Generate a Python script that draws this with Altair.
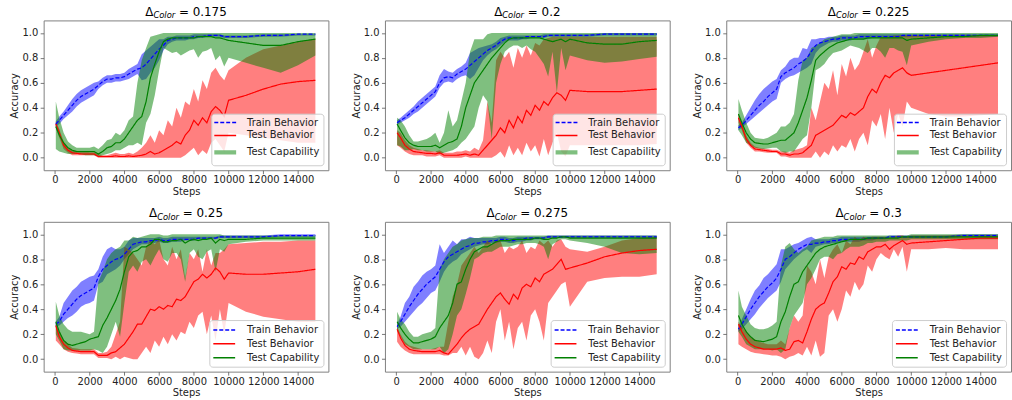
import altair as alt
import pandas as pd

# ---------------- data ----------------
STEPS = [50, 250, 500, 750, 1000, 1250, 1500, 1750, 2000, 2250,
         2500, 2750, 3000, 3250, 3500, 3750, 4000, 4250, 4500, 4750,
         5000, 5250, 5500, 5750, 6000, 6250, 6500, 6750, 7000, 7250,
         7500, 7750, 8000, 8250, 8500, 8750, 9000, 9250, 9500, 9750,
         10000, 11000, 12000, 13000, 14000, 15000]
SERIES = ["Train Behavior", "Test Behavior", "Test Capability"]
COLORS = ["blue", "red", "green"]
DELTAS = ["0.175", "0.2", "0.225", "0.25", "0.275", "0.3"]
X_TICKS = [0, 2000, 4000, 6000, 8000, 10000, 12000, 14000]
Y_TICKS = [0.0, 0.2, 0.4, 0.6, 0.8, 1.0]

# ---- Delta = 0.175
a_train = [0.27,0.30,0.34,0.38,0.42,0.46,0.49,0.51,0.53,0.55,
           0.58,0.61,0.63,0.63,0.64,0.64,0.65,0.67,0.69,0.71,
           0.72,0.75,0.79,0.83,0.87,0.90,0.94,0.95,0.96,0.96,
           0.96,0.96,0.97,0.97,0.97,0.98,0.98,0.98,0.98,0.97,
           0.97,0.97,0.98,0.98,0.99,0.99]
a_train_lo = [0.25,0.27,0.31,0.34,0.37,0.41,0.44,0.46,0.48,0.50,
              0.55,0.58,0.60,0.60,0.61,0.61,0.62,0.63,0.65,0.67,
              0.62,0.63,0.68,0.72,0.78,0.86,0.91,0.93,0.94,0.94,
              0.94,0.95,0.95,0.96,0.96,0.97,0.97,0.97,0.97,0.96,
              0.96,0.96,0.97,0.97,0.98,0.98]
a_train_hi = [0.29,0.33,0.37,0.42,0.47,0.51,0.54,0.56,0.58,0.60,
              0.61,0.64,0.66,0.66,0.67,0.67,0.68,0.71,0.73,0.75,
              0.83,0.86,0.89,0.92,0.95,0.95,0.97,0.97,0.98,0.98,
              0.98,0.98,0.99,0.99,0.99,0.99,0.99,0.99,0.99,0.98,
              0.98,0.98,0.99,0.99,0.99,0.99]
a_beh = [0.27,0.20,0.10,0.06,0.04,0.035,0.03,0.03,0.03,0.03,
         0.01,0.01,0.01,0.01,0.015,0.01,0.01,0.015,0.01,0.015,
         0.02,0.03,0.05,0.03,0.04,0.06,0.08,0.10,0.13,0.11,
         0.18,0.22,0.30,0.26,0.32,0.28,0.37,0.41,0.38,0.33,
         0.46,0.50,0.55,0.59,0.61,0.62]
a_beh_lo = [0.24,0.16,0.07,0.04,0.02,0.02,0.02,0.02,0.02,0.02,
            0.0,0.0,0.0,0.0,0.0,0.0,0.0,0.0,0.0,0.0,
            0.0,0.0,0.0,0.0,0.0,0.0,0.0,0.0,0.0,0.0,
            0.02,0.05,0.08,0.02,0.06,0.03,0.12,0.15,0.10,0.05,
            0.20,0.18,0.16,0.14,0.12,0.12]
a_beh_hi = [0.29,0.23,0.13,0.08,0.06,0.05,0.05,0.05,0.045,0.045,
            0.03,0.02,0.02,0.03,0.04,0.03,0.03,0.04,0.03,0.05,
            0.08,0.12,0.18,0.12,0.22,0.18,0.30,0.25,0.40,0.32,
            0.45,0.42,0.55,0.45,0.62,0.55,0.68,0.72,0.66,0.62,
            0.70,0.80,0.87,0.90,0.93,0.955]
a_cap = [0.25,0.18,0.12,0.08,0.06,0.05,0.05,0.05,0.05,0.05,
         0.03,0.05,0.08,0.09,0.12,0.12,0.15,0.20,0.25,0.30,
         0.33,0.45,0.64,0.75,0.85,0.93,0.95,0.96,0.96,0.96,
         0.96,0.96,0.96,0.97,0.97,0.97,0.97,0.96,0.96,0.95,
         0.94,0.92,0.90,0.90,0.93,0.95]
a_cap_lo = [0.07,0.05,0.04,0.03,0.03,0.03,0.03,0.02,0.02,0.02,
            0.01,0.02,0.03,0.04,0.06,0.06,0.08,0.10,0.10,0.12,
            0.10,0.28,0.35,0.50,0.70,0.88,0.86,0.84,0.85,0.82,
            0.84,0.86,0.87,0.80,0.85,0.86,0.88,0.78,0.82,0.73,
            0.80,0.76,0.72,0.68,0.74,0.82]
a_cap_hi = [0.45,0.32,0.20,0.13,0.10,0.08,0.08,0.08,0.08,0.09,
            0.07,0.10,0.14,0.15,0.20,0.18,0.22,0.30,0.33,0.60,
            0.78,0.88,0.97,0.98,0.99,1.0,1.0,1.0,1.0,1.0,
            1.0,1.0,1.0,1.0,1.0,1.0,1.0,1.0,1.0,1.0,
            1.0,1.0,1.0,1.0,1.0,1.0]

# ---- Delta = 0.2
b_train = [0.28,0.30,0.32,0.35,0.38,0.41,0.44,0.47,0.50,0.53,
           0.60,0.64,0.65,0.64,0.67,0.69,0.71,0.74,0.77,0.80,
           0.83,0.86,0.88,0.90,0.93,0.95,0.96,0.96,0.96,0.96,
           0.97,0.97,0.97,0.97,0.97,0.98,0.98,0.98,0.98,0.98,
           0.98,0.98,0.99,0.99,0.99,0.99]
b_train_lo = [0.26,0.28,0.30,0.32,0.35,0.37,0.40,0.43,0.46,0.49,
              0.56,0.60,0.61,0.60,0.63,0.65,0.66,0.63,0.66,0.72,
              0.78,0.82,0.85,0.87,0.90,0.93,0.94,0.94,0.94,0.95,
              0.95,0.96,0.96,0.96,0.96,0.97,0.97,0.97,0.97,0.97,
              0.97,0.97,0.98,0.98,0.98,0.98]
b_train_hi = [0.30,0.32,0.35,0.38,0.41,0.45,0.48,0.51,0.54,0.57,
              0.66,0.71,0.69,0.68,0.71,0.73,0.76,0.84,0.86,0.88,
              0.89,0.90,0.91,0.93,0.96,0.97,0.98,0.98,0.98,0.98,
              0.98,0.98,0.98,0.98,0.99,0.99,0.99,0.99,0.99,0.99,
              0.99,0.99,1.0,1.0,1.0,1.0]
b_beh = [0.20,0.16,0.10,0.07,0.05,0.045,0.04,0.035,0.035,0.03,
         0.04,0.02,0.02,0.02,0.02,0.025,0.03,0.02,0.03,0.02,
         0.06,0.10,0.14,0.18,0.24,0.20,0.30,0.24,0.33,0.28,
         0.38,0.34,0.42,0.38,0.45,0.42,0.48,0.52,0.50,0.46,
         0.54,0.53,0.53,0.53,0.54,0.55]
b_beh_lo = [0.10,0.08,0.05,0.03,0.02,0.02,0.02,0.01,0.01,0.01,
            0.02,0.0,0.0,0.0,0.0,0.0,0.01,0.0,0.0,0.0,
            0.0,0.0,0.0,0.02,0.05,0.0,0.10,0.02,0.08,0.02,
            0.12,0.05,0.10,0.01,0.15,0.02,0.12,0.20,0.05,0.01,
            0.10,0.10,0.10,0.10,0.10,0.11]
b_beh_hi = [0.22,0.20,0.14,0.10,0.08,0.07,0.06,0.06,0.055,0.05,
            0.06,0.04,0.04,0.04,0.05,0.05,0.06,0.05,0.08,0.06,
            0.14,0.45,0.28,0.78,0.85,0.80,0.85,0.72,0.88,0.80,
            0.90,0.82,0.92,0.90,0.95,0.96,0.97,0.97,0.97,0.97,
            0.97,0.97,0.97,0.97,0.97,0.97]
b_cap = [0.27,0.22,0.16,0.12,0.10,0.09,0.09,0.09,0.09,0.10,
         0.08,0.10,0.12,0.13,0.15,0.25,0.40,0.50,0.60,0.65,
         0.70,0.75,0.80,0.84,0.88,0.92,0.95,0.96,0.96,0.96,
         0.96,0.96,0.96,0.96,0.95,0.94,0.93,0.94,0.95,0.93,
         0.95,0.92,0.91,0.91,0.93,0.94]
b_cap_lo = [0.10,0.09,0.06,0.06,0.07,0.06,0.06,0.05,0.05,0.05,
            0.03,0.04,0.05,0.06,0.08,0.12,0.15,0.20,0.25,0.40,
            0.50,0.45,0.15,0.60,0.75,0.85,0.88,0.90,0.90,0.88,
            0.90,0.87,0.85,0.80,0.75,0.65,0.85,0.52,0.88,0.70,
            0.82,0.78,0.76,0.77,0.79,0.81]
b_cap_hi = [0.32,0.30,0.25,0.18,0.13,0.13,0.14,0.15,0.17,0.20,
            0.12,0.20,0.38,0.25,0.30,0.45,0.60,0.85,0.95,0.95,
            0.95,0.99,1.0,1.0,1.0,1.0,1.0,1.0,1.0,1.0,
            1.0,1.0,1.0,1.0,1.0,1.0,1.0,1.0,1.0,1.0,
            1.0,1.0,1.0,1.0,1.0,1.0]

# ---- Delta = 0.225
c_train = [0.24,0.26,0.30,0.34,0.38,0.42,0.45,0.49,0.52,0.55,
           0.65,0.68,0.70,0.72,0.75,0.77,0.80,0.85,0.90,0.92,
           0.93,0.94,0.95,0.95,0.96,0.96,0.96,0.96,0.97,0.97,
           0.97,0.97,0.97,0.97,0.97,0.97,0.97,0.97,0.98,0.98,
           0.98,0.98,0.98,0.98,0.98,0.98]
c_train_lo = [0.22,0.24,0.27,0.30,0.33,0.36,0.39,0.42,0.45,0.47,
              0.60,0.63,0.65,0.66,0.68,0.70,0.72,0.75,0.84,0.88,
              0.90,0.92,0.93,0.93,0.94,0.94,0.94,0.95,0.95,0.95,
              0.95,0.96,0.96,0.96,0.96,0.96,0.96,0.96,0.97,0.97,
              0.97,0.97,0.97,0.97,0.97,0.97]
c_train_hi = [0.26,0.28,0.34,0.40,0.46,0.51,0.55,0.58,0.61,0.63,
              0.70,0.73,0.78,0.80,0.80,0.88,0.87,0.95,0.95,0.96,
              0.96,0.97,0.97,0.97,0.98,0.98,0.98,0.98,0.99,0.99,
              0.99,0.99,0.99,0.99,0.99,0.99,0.99,0.99,0.99,0.99,
              0.99,0.99,0.99,0.99,0.99,0.99]
c_beh = [0.32,0.25,0.15,0.10,0.07,0.065,0.06,0.055,0.05,0.05,
         0.03,0.03,0.02,0.03,0.03,0.04,0.07,0.10,0.18,0.20,
         0.22,0.24,0.26,0.30,0.34,0.32,0.36,0.34,0.37,0.40,
         0.49,0.55,0.52,0.60,0.66,0.64,0.68,0.70,0.72,0.68,
         0.66,0.68,0.70,0.72,0.74,0.76]
c_beh_lo = [0.28,0.22,0.12,0.08,0.05,0.05,0.045,0.04,0.04,0.04,
            0.01,0.01,0.0,0.0,0.0,0.0,0.0,0.0,0.05,0.0,
            0.05,0.02,0.10,0.05,0.10,0.08,0.15,0.05,0.15,0.20,
            0.10,0.30,0.25,0.35,0.15,0.40,0.20,0.35,0.25,0.45,
            0.40,0.35,0.33,0.33,0.34,0.35]
c_beh_hi = [0.35,0.28,0.18,0.12,0.09,0.08,0.075,0.07,0.065,0.065,
            0.05,0.05,0.04,0.06,0.07,0.08,0.10,0.40,0.30,0.45,
            0.60,0.55,0.70,0.50,0.75,0.65,0.80,0.70,0.75,0.85,
            0.95,0.80,0.90,0.97,0.97,0.97,0.98,0.98,0.98,0.98,
            0.98,0.98,0.98,0.98,0.98,0.98]
c_cap = [0.35,0.28,0.20,0.15,0.12,0.115,0.11,0.11,0.12,0.13,
         0.14,0.14,0.17,0.20,0.28,0.38,0.48,0.62,0.78,0.82,
         0.85,0.88,0.90,0.92,0.93,0.94,0.95,0.95,0.95,0.95,
         0.96,0.96,0.96,0.96,0.96,0.96,0.96,0.96,0.96,0.94,
         0.95,0.96,0.97,0.97,0.98,0.98]
c_cap_lo = [0.22,0.18,0.12,0.10,0.08,0.075,0.07,0.075,0.08,0.08,
            0.05,0.04,0.05,0.05,0.10,0.15,0.18,0.40,0.70,0.72,
            0.75,0.80,0.84,0.85,0.86,0.88,0.90,0.89,0.88,0.86,
            0.84,0.88,0.88,0.85,0.80,0.88,0.88,0.86,0.85,0.74,
            0.90,0.93,0.95,0.96,0.96,0.97]
c_cap_hi = [0.47,0.38,0.28,0.20,0.16,0.155,0.15,0.16,0.18,0.20,
            0.25,0.25,0.28,0.35,0.62,0.78,0.80,0.88,0.90,0.92,
            0.95,0.96,0.97,0.98,0.99,0.99,0.99,1.0,1.0,1.0,
            1.0,1.0,1.0,1.0,1.0,1.0,1.0,1.0,1.0,1.0,
            1.0,1.0,1.0,1.0,1.0,1.0]

# ---- Delta = 0.25
d_train = [0.28,0.30,0.36,0.40,0.44,0.48,0.51,0.53,0.55,0.57,
           0.66,0.72,0.75,0.78,0.80,0.81,0.84,0.88,0.92,0.93,
           0.94,0.94,0.95,0.95,0.96,0.95,0.95,0.96,0.96,0.96,
           0.96,0.96,0.96,0.97,0.97,0.97,0.97,0.97,0.98,0.98,
           0.98,0.98,0.98,0.99,0.99,0.99]
d_train_lo = [0.26,0.27,0.30,0.33,0.35,0.38,0.42,0.44,0.45,0.47,
              0.60,0.62,0.68,0.70,0.72,0.75,0.80,0.84,0.88,0.90,
              0.92,0.92,0.93,0.93,0.94,0.93,0.93,0.94,0.94,0.94,
              0.95,0.95,0.95,0.96,0.96,0.96,0.96,0.96,0.97,0.97,
              0.97,0.97,0.97,0.98,0.98,0.98]
d_train_hi = [0.30,0.34,0.45,0.50,0.55,0.58,0.62,0.64,0.66,0.67,
              0.72,0.82,0.88,0.90,0.88,0.88,0.90,0.95,0.97,0.97,
              0.97,0.97,0.97,0.97,0.98,0.97,0.97,0.98,0.98,0.98,
              0.98,0.98,0.98,0.98,0.98,0.98,0.98,0.98,0.99,0.99,
              0.99,0.99,0.99,1.0,1.0,1.0]
d_beh = [0.27,0.18,0.12,0.09,0.07,0.065,0.06,0.06,0.06,0.06,
         0.03,0.03,0.03,0.05,0.06,0.09,0.12,0.17,0.22,0.28,
         0.28,0.34,0.40,0.39,0.42,0.40,0.43,0.42,0.48,0.47,
         0.50,0.56,0.62,0.64,0.68,0.65,0.68,0.73,0.70,0.64,
         0.69,0.68,0.68,0.69,0.70,0.72]
d_beh_lo = [0.15,0.12,0.08,0.06,0.05,0.045,0.04,0.04,0.04,0.04,
            0.01,0.01,0.01,0.0,0.02,0.0,0.02,0.01,0.0,0.0,
            0.05,0.10,0.05,0.15,0.10,0.18,0.12,0.20,0.15,0.22,
            0.20,0.30,0.25,0.35,0.38,0.20,0.35,0.15,0.40,0.20,
            0.45,0.38,0.34,0.32,0.30,0.30]
d_beh_hi = [0.28,0.22,0.15,0.12,0.09,0.085,0.08,0.08,0.08,0.08,
            0.05,0.05,0.06,0.10,0.20,0.30,0.90,0.88,0.85,0.80,
            0.75,0.90,0.95,0.92,0.96,0.80,0.75,0.90,0.80,0.88,
            0.65,0.85,0.80,0.88,0.70,0.88,0.75,0.85,0.85,0.88,
            0.92,0.93,0.94,0.94,0.95,0.95]
d_cap = [0.30,0.22,0.15,0.12,0.11,0.12,0.13,0.14,0.16,0.17,
         0.18,0.27,0.33,0.40,0.47,0.56,0.70,0.82,0.86,0.87,
         0.90,0.90,0.92,0.96,0.96,0.94,0.94,0.95,0.95,0.96,
         0.93,0.95,0.96,0.95,0.96,0.96,0.97,0.93,0.96,0.95,
         0.96,0.96,0.97,0.97,0.97,0.97]
d_cap_lo = [0.20,0.15,0.08,0.07,0.07,0.07,0.07,0.07,0.07,0.08,
            0.07,0.05,0.10,0.20,0.30,0.18,0.45,0.70,0.75,0.70,
            0.78,0.80,0.75,0.82,0.88,0.80,0.78,0.85,0.85,0.80,
            0.62,0.85,0.88,0.82,0.80,0.86,0.88,0.70,0.88,0.86,
            0.92,0.94,0.95,0.95,0.95,0.95]
d_cap_hi = [0.46,0.35,0.28,0.24,0.22,0.22,0.22,0.21,0.20,0.22,
            0.62,0.70,0.80,0.85,0.88,0.90,0.95,0.95,0.98,0.97,
            0.98,0.99,1.0,1.0,1.0,0.99,0.99,1.0,1.0,1.0,
            1.0,1.0,1.0,1.0,1.0,1.0,1.0,1.0,1.0,0.99,
            0.99,0.99,0.99,0.99,0.99,0.99]

# ---- Delta = 0.275
e_train = [0.26,0.30,0.36,0.42,0.47,0.52,0.56,0.60,0.63,0.66,
           0.72,0.78,0.82,0.84,0.86,0.88,0.90,0.91,0.93,0.93,
           0.94,0.94,0.95,0.95,0.96,0.96,0.95,0.95,0.96,0.96,
           0.97,0.97,0.97,0.97,0.97,0.98,0.98,0.98,0.98,0.98,
           0.98,0.98,0.98,0.98,0.98,0.98]
e_train_lo = [0.24,0.26,0.30,0.34,0.38,0.42,0.45,0.49,0.53,0.55,
              0.62,0.70,0.75,0.78,0.80,0.84,0.86,0.88,0.90,0.91,
              0.92,0.92,0.93,0.93,0.94,0.94,0.93,0.93,0.94,0.94,
              0.95,0.95,0.96,0.96,0.96,0.97,0.97,0.97,0.97,0.97,
              0.97,0.97,0.97,0.97,0.97,0.97]
e_train_hi = [0.28,0.34,0.45,0.50,0.58,0.62,0.67,0.70,0.72,0.75,
              0.92,0.85,0.90,0.95,0.92,0.96,0.96,0.98,0.97,0.97,
              0.97,0.97,0.97,0.97,0.98,0.98,0.97,0.97,0.98,0.98,
              0.98,0.98,0.98,0.98,0.98,0.99,0.99,0.99,0.99,0.99,
              0.99,0.99,0.99,0.99,0.99,0.99]
e_beh = [0.24,0.17,0.11,0.08,0.07,0.065,0.06,0.06,0.06,0.06,
         0.07,0.05,0.04,0.08,0.12,0.17,0.21,0.24,0.26,0.28,
         0.34,0.40,0.45,0.50,0.53,0.48,0.44,0.52,0.48,0.57,
         0.60,0.58,0.65,0.62,0.68,0.70,0.72,0.76,0.80,0.72,
         0.73,0.77,0.82,0.85,0.87,0.88]
e_beh_lo = [0.14,0.10,0.07,0.05,0.04,0.04,0.04,0.04,0.04,0.04,
            0.04,0.03,0.03,0.05,0.05,0.10,0.03,0.10,0.02,0.0,
            0.05,0.15,0.05,0.30,0.40,0.15,0.30,0.08,0.25,0.30,
            0.15,0.35,0.40,0.30,0.15,0.45,0.50,0.55,0.60,0.62,
            0.42,0.62,0.65,0.66,0.66,0.68]
e_beh_hi = [0.26,0.20,0.14,0.11,0.10,0.09,0.08,0.08,0.08,0.09,
            0.10,0.10,0.30,0.50,0.60,0.75,0.80,0.85,0.90,0.85,
            0.90,0.95,0.92,0.95,0.95,0.85,0.90,0.88,0.90,0.95,
            0.85,0.90,0.88,0.95,0.92,0.95,0.90,0.95,0.96,0.90,
            0.88,0.86,0.90,0.95,0.97,0.98]
e_cap = [0.30,0.25,0.20,0.16,0.13,0.13,0.14,0.15,0.16,0.18,
         0.25,0.30,0.35,0.45,0.60,0.62,0.72,0.80,0.86,0.88,
         0.90,0.90,0.92,0.94,0.95,0.95,0.95,0.96,0.96,0.96,
         0.96,0.96,0.97,0.97,0.96,0.96,0.97,0.97,0.98,0.98,
         0.97,0.97,0.97,0.97,0.97,0.97]
e_cap_lo = [0.23,0.18,0.12,0.10,0.08,0.08,0.08,0.08,0.08,0.08,
            0.10,0.05,0.08,0.20,0.35,0.40,0.52,0.65,0.80,0.82,
            0.85,0.86,0.86,0.88,0.90,0.90,0.90,0.91,0.92,0.92,
            0.93,0.93,0.93,0.92,0.90,0.80,0.92,0.94,0.96,0.96,
            0.95,0.93,0.90,0.85,0.84,0.85]
e_cap_hi = [0.38,0.32,0.28,0.22,0.18,0.18,0.20,0.21,0.22,0.25,
            0.72,0.80,0.85,0.90,0.92,0.95,0.96,0.97,0.97,0.97,
            0.98,0.98,0.98,0.99,0.99,0.99,0.99,0.99,0.99,0.99,
            0.99,0.99,0.99,0.99,0.99,0.99,0.99,0.99,0.99,0.99,
            0.99,0.99,0.99,0.99,0.99,0.99]

# ---- Delta = 0.3
f_train = [0.24,0.28,0.34,0.40,0.45,0.50,0.54,0.58,0.61,0.65,
           0.72,0.80,0.82,0.85,0.88,0.90,0.92,0.92,0.93,0.93,
           0.94,0.94,0.95,0.95,0.96,0.96,0.96,0.96,0.96,0.96,
           0.97,0.97,0.97,0.97,0.97,0.98,0.98,0.98,0.98,0.98,
           0.98,0.98,0.98,0.99,0.99,0.99]
f_train_lo = [0.22,0.24,0.28,0.32,0.36,0.41,0.45,0.49,0.52,0.55,
              0.62,0.72,0.76,0.80,0.83,0.86,0.88,0.85,0.90,0.91,
              0.92,0.92,0.93,0.93,0.94,0.94,0.94,0.94,0.94,0.95,
              0.95,0.95,0.96,0.96,0.96,0.97,0.97,0.97,0.97,0.97,
              0.97,0.97,0.97,0.98,0.98,0.98]
f_train_hi = [0.26,0.32,0.40,0.48,0.55,0.59,0.65,0.68,0.72,0.76,
              0.88,0.88,0.90,0.92,0.93,0.95,0.97,0.98,0.96,0.96,
              0.96,0.96,0.97,0.97,0.98,0.98,0.98,0.98,0.98,0.98,
              0.98,0.98,0.98,0.98,0.98,0.99,0.99,0.99,0.99,0.99,
              0.99,0.99,0.99,1.0,1.0,1.0]
f_beh = [0.28,0.22,0.16,0.12,0.10,0.09,0.08,0.08,0.08,0.08,
         0.09,0.07,0.08,0.14,0.15,0.13,0.22,0.32,0.40,0.43,
         0.45,0.53,0.62,0.66,0.74,0.72,0.77,0.76,0.82,0.80,
         0.86,0.88,0.90,0.90,0.92,0.88,0.91,0.93,0.95,0.92,
         0.93,0.94,0.95,0.96,0.97,0.97]
f_beh_lo = [0.12,0.10,0.08,0.06,0.05,0.045,0.04,0.035,0.03,0.03,
            0.02,0.0,0.02,0.03,0.05,0.03,0.10,0.03,0.15,0.02,
            0.05,0.35,0.40,0.30,0.40,0.55,0.50,0.62,0.55,0.60,
            0.75,0.70,0.80,0.85,0.82,0.80,0.88,0.82,0.90,0.70,
            0.88,0.88,0.89,0.88,0.88,0.88]
f_beh_hi = [0.30,0.26,0.22,0.18,0.16,0.14,0.13,0.12,0.12,0.12,
            0.15,0.12,0.25,0.35,0.30,0.35,0.75,0.70,0.60,0.80,
            0.65,0.82,0.88,0.92,0.85,0.95,0.92,0.98,0.95,0.98,
            0.97,0.98,0.98,0.98,0.98,0.97,0.98,0.99,0.99,0.98,
            0.99,0.99,0.99,0.99,0.99,0.99]
f_cap = [0.35,0.28,0.22,0.18,0.15,0.145,0.14,0.15,0.16,0.18,
         0.30,0.38,0.50,0.60,0.62,0.70,0.75,0.80,0.85,0.88,
         0.90,0.91,0.92,0.93,0.94,0.95,0.96,0.96,0.96,0.96,
         0.97,0.97,0.97,0.97,0.97,0.97,0.97,0.97,0.98,0.98,
         0.98,0.98,0.98,0.98,0.98,0.98]
f_cap_lo = [0.22,0.18,0.12,0.10,0.08,0.08,0.08,0.08,0.07,0.08,
            0.05,0.08,0.25,0.35,0.40,0.45,0.60,0.65,0.72,0.80,
            0.82,0.82,0.80,0.84,0.85,0.88,0.90,0.90,0.90,0.91,
            0.93,0.93,0.94,0.94,0.94,0.95,0.95,0.95,0.95,0.95,
            0.96,0.96,0.96,0.96,0.96,0.96]
f_cap_hi = [0.55,0.42,0.35,0.28,0.25,0.24,0.24,0.25,0.27,0.30,
            0.75,0.90,0.93,0.88,0.85,0.88,0.90,0.95,0.96,0.97,
            0.98,0.98,0.98,0.99,0.99,0.99,0.99,0.99,0.99,0.99,
            0.99,0.99,0.99,0.99,0.99,0.99,0.99,0.99,0.99,0.99,
            1.0,1.0,1.0,1.0,1.0,1.0]

PANELS = [
    (DELTAS[0], [(a_train, a_train_lo, a_train_hi), (a_beh, a_beh_lo, a_beh_hi), (a_cap, a_cap_lo, a_cap_hi)]),
    (DELTAS[1], [(b_train, b_train_lo, b_train_hi), (b_beh, b_beh_lo, b_beh_hi), (b_cap, b_cap_lo, b_cap_hi)]),
    (DELTAS[2], [(c_train, c_train_lo, c_train_hi), (c_beh, c_beh_lo, c_beh_hi), (c_cap, c_cap_lo, c_cap_hi)]),
    (DELTAS[3], [(d_train, d_train_lo, d_train_hi), (d_beh, d_beh_lo, d_beh_hi), (d_cap, d_cap_lo, d_cap_hi)]),
    (DELTAS[4], [(e_train, e_train_lo, e_train_hi), (e_beh, e_beh_lo, e_beh_hi), (e_cap, e_cap_lo, e_cap_hi)]),
    (DELTAS[5], [(f_train, f_train_lo, f_train_hi), (f_beh, f_beh_lo, f_beh_hi), (f_cap, f_cap_lo, f_cap_hi)]),
]

# ---------------- layout ----------------
W, H = 287, 151
FONT = "DejaVu Sans"
TITLE_FS = 12
SUB_FS = 8.4
# DejaVu Sans advance widths (em) used to centre the composite title
ADV = {".": 0.318, " ": 0.318, "=": 0.838}
W_DELTA = 0.684 * TITLE_FS
W_SUB = (0.698 + 0.612 + 0.278 + 0.612 + 0.411) * SUB_FS
W_SPACE = 0.318 * TITLE_FS


def title_layers(value):
    rest = "= " + value
    w_rest = W_SPACE + sum(ADV.get(ch, 0.636) for ch in rest) * TITLE_FS
    start = -(W_DELTA + W_SUB + w_rest) / 2
    base_y = -4.5
    parts = [
        ("\u0394", TITLE_FS, "normal", start, base_y),
        ("Color", SUB_FS, "italic", start + W_DELTA, base_y + 2.5),
        (rest, TITLE_FS, "normal", start + W_DELTA + W_SUB + W_SPACE, base_y),
    ]
    layers = []
    for txt, fs, style, dx, yy in parts:
        layers.append(
            alt.Chart(pd.DataFrame({"t": [txt]}))
            .mark_text(align="left", baseline="alphabetic", font=FONT, fontSize=fs,
                       fontStyle=style, color="black", dx=dx)
            .encode(text="t:N", x=alt.value(W / 2), y=alt.value(yy))
        )
    return layers


x_enc = alt.X("step:Q",
              scale=alt.Scale(domain=[-650, 15750], nice=False, zero=False),
              axis=alt.Axis(values=X_TICKS, format="d", title="Steps",
                            labelPadding=1, titlePadding=2, labelFlush=False))
y_scale = alt.Scale(domain=[-0.1, 1.1], nice=False, zero=False)
y_axis = alt.Axis(values=Y_TICKS, format=".1f", title="Accuracy",
                  labelPadding=2.5, titlePadding=2, labelFlush=False)


def make_legend(thick_capability):
    kw = dict(title=None, orient="bottom-right", offset=5, padding=4,
              fillColor="rgba(255,255,255,0.8)", strokeColor="#cccccc",
              cornerRadius=3, labelFont=FONT, labelFontSize=10,
              labelColor="#222222", symbolType="M-2.2,0H2.2", symbolSize=100,
              symbolOffset=5, labelOffset=17, rowPadding=3)
    if thick_capability:
        kw["symbolStrokeWidth"] = alt.ExprRef("datum.label === 'Test Capability' ? 4.5 : 1.5")
        kw["symbolOpacity"] = alt.ExprRef("datum.label === 'Test Capability' ? 0.5 : 1")
    else:
        kw["symbolStrokeWidth"] = 1.5
    return alt.Legend(**kw)


def panel(value, series_data, thick):
    rows = []
    for name, (m, lo, hi) in zip(SERIES, series_data):
        for s, a, b, c in zip(STEPS, m, lo, hi):
            rows.append({"step": s, "series": name, "mean": a, "lo": b, "hi": c})
    df = pd.DataFrame(rows)
    legend = make_legend(thick)
    areas = [
        alt.Chart(df).transform_filter(alt.datum.series == name)
        .mark_area(color=col, opacity=0.5)
        .encode(x=x_enc, y=alt.Y("lo:Q", scale=y_scale, axis=y_axis), y2="hi:Q")
        for name, col in zip(SERIES, COLORS)
    ]
    lines = alt.Chart(df).mark_line(strokeWidth=1.2).encode(
        x=x_enc,
        y=alt.Y("mean:Q", scale=y_scale, axis=y_axis),
        color=alt.Color("series:N", scale=alt.Scale(domain=SERIES, range=COLORS), legend=legend),
        strokeDash=alt.StrokeDash("series:N",
                                  scale=alt.Scale(domain=SERIES, range=[[4, 2], [1, 0], [1, 0]]),
                                  legend=legend),
    )
    return alt.layer(*areas, lines, *title_layers(value)).properties(width=W, height=H)


charts = [panel(v, sd, i < 3) for i, (v, sd) in enumerate(PANELS)]


def hrow(items):
    return (alt.hconcat(*items, spacing=21)
            .resolve_scale(color="independent", strokeDash="independent")
            .resolve_legend(color="independent", strokeDash="independent"))


chart = (
    alt.vconcat(hrow(charts[:3]), hrow(charts[3:]), spacing=10)
    .resolve_scale(color="independent", strokeDash="independent")
    .resolve_legend(color="independent", strokeDash="independent")
    .properties(padding={"left": 9, "top": 4, "right": 0, "bottom": 0})
    .configure_view(stroke="#7f7f7f", strokeWidth=1)
    .configure_axis(domain=False, grid=False, tickColor="#555555", tickSize=3.5,
                    tickWidth=0.8, labelFont=FONT, labelFontSize=10, labelColor="#222222",
                    titleFont=FONT, titleFontSize=10, titleColor="#222222",
                    titleFontWeight="normal")
)

chart.save("out.html", embed_options={"renderer": "svg", "actions": False})
